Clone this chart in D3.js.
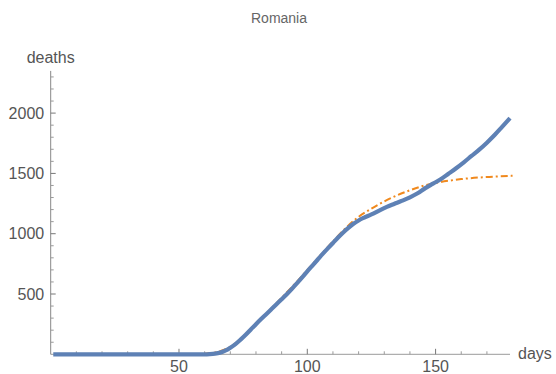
<!DOCTYPE html>
<html>
<head>
<meta charset="utf-8">
<script src="https://cdn.jsdelivr.net/npm/d3@7/dist/d3.min.js"></script>
<style>
  html, body { margin: 0; padding: 0; background: #fff; }
  svg { display: block; font-family: "Liberation Sans", Arial, sans-serif; }
</style>
</head>
<body>
<svg id="chart" width="556" height="374"></svg>
<script>
// ---- data ----
const title = "Romania";
const xLabel = "days";
const yLabel = "deaths";

// observed cumulative deaths (blue)
const observedDays = [1, 55, 60, 62, 64, 66, 68, 70, 72, 74, 76, 78, 80, 82, 84, 86, 88, 90, 92, 94, 96, 98, 100,
  102, 104, 106, 108, 110, 112, 114, 116, 118, 120, 122, 125, 128, 131, 134, 137, 140, 143, 146, 149,
  152, 155, 158, 161, 164, 167, 170, 173, 176, 179];
const observedDeaths = [0, 0, 0, 2, 6, 14, 30, 55, 85, 122, 162, 206, 250, 292, 333, 374, 415, 456, 498, 543, 590, 638, 688,
  736, 784, 832, 878, 923, 968, 1010, 1048, 1082, 1110, 1132, 1160, 1192, 1222, 1248, 1274, 1302, 1335, 1378, 1415,
  1452, 1497, 1543, 1592, 1645, 1697, 1755, 1818, 1888, 1958];

// model fit (orange, dot-dashed)
const fitDays = [60, 65, 70, 75, 80, 85, 90, 95, 100, 105, 110, 115, 120, 125, 130, 135, 140, 145, 150, 155, 160, 165, 170, 175, 180];
const fitDeaths = [4, 20, 62, 140, 248, 358, 468, 580, 698, 818, 936, 1048, 1140, 1208, 1268, 1318, 1360, 1396, 1421, 1439, 1453, 1463, 1470, 1476, 1480];

const xTicks = [50, 100, 150];
const yTicks = [500, 1000, 1500, 2000];

// ---- layout ----
const svg = d3.select("#chart");
const x = d3.scaleLinear().domain([0, 179]).range([50.7, 510]);
const y = d3.scaleLinear().domain([0, 2350]).range([354.3, 70.9]);

const axisColor = "#9a9a9a";
const textColor = "#555555";

// title
svg.append("text").attr("x", 279).attr("y", 23).attr("text-anchor", "middle")
  .attr("font-size", 14).attr("fill", "#666").text(title);

// x axis
const gx = svg.append("g").attr("transform", `translate(0,${y(0)})`);
gx.append("line").attr("x1", x(0)).attr("x2", x(179)).attr("stroke", axisColor).attr("stroke-width", 1);
const xMinor = d3.range(10, 180, 10).filter(v => !xTicks.includes(v));
gx.selectAll(".xminor").data(xMinor).join("line")
  .attr("x1", d => x(d)).attr("x2", d => x(d)).attr("y1", 0).attr("y2", -3)
  .attr("stroke", axisColor);
gx.selectAll(".xmajor").data(xTicks).join("line")
  .attr("x1", d => x(d)).attr("x2", d => x(d)).attr("y1", 0).attr("y2", -5.5)
  .attr("stroke", "#777");
gx.selectAll(".xlab").data(xTicks).join("text")
  .attr("x", d => x(d)).attr("y", 17.5).attr("text-anchor", "middle")
  .attr("font-size", 16).attr("fill", textColor).text(d => d);
svg.append("text").attr("x", 518).attr("y", 358.5).attr("font-size", 16).attr("fill", textColor).text(xLabel);

// y axis
const gy = svg.append("g").attr("transform", `translate(${x(0)},0)`);
gy.append("line").attr("y1", y(0)).attr("y2", y(2350)).attr("stroke", "#888").attr("stroke-width", 1);
const yMinor = d3.range(100, 2400, 100).filter(v => !yTicks.includes(v));
gy.selectAll(".yminor").data(yMinor).join("line")
  .attr("y1", d => y(d)).attr("y2", d => y(d)).attr("x1", 0).attr("x2", 3)
  .attr("stroke", axisColor);
gy.selectAll(".ymajor").data(yTicks).join("line")
  .attr("y1", d => y(d)).attr("y2", d => y(d)).attr("x1", 0).attr("x2", 5)
  .attr("stroke", "#777");
gy.selectAll(".ylab").data(yTicks).join("text")
  .attr("x", -6.5).attr("y", d => y(d)).attr("dy", "0.35em").attr("text-anchor", "end")
  .attr("font-size", 16).attr("fill", textColor).text(d => d);
svg.append("text").attr("x", x(0)).attr("y", 63).attr("text-anchor", "middle")
  .attr("font-size", 16).attr("fill", textColor).text(yLabel);

// lines
const obs = observedDays.map((d, i) => [d, observedDeaths[i]]);
const fit = fitDays.map((d, i) => [d, fitDeaths[i]]);
const line = d3.line().x(d => x(d[0])).y(d => y(d[1])).curve(d3.curveMonotoneX);

svg.append("path").datum(fit).attr("d", line).attr("fill", "none")
  .attr("stroke", "#F0891D").attr("stroke-width", 2)
  .attr("stroke-dasharray", "7,3,2,3");
svg.append("path").datum(obs).attr("d", line).attr("fill", "none")
  .attr("stroke", "#5E81B5").attr("stroke-width", 4.2).attr("stroke-linejoin", "round");
</script>
</body>
</html>
